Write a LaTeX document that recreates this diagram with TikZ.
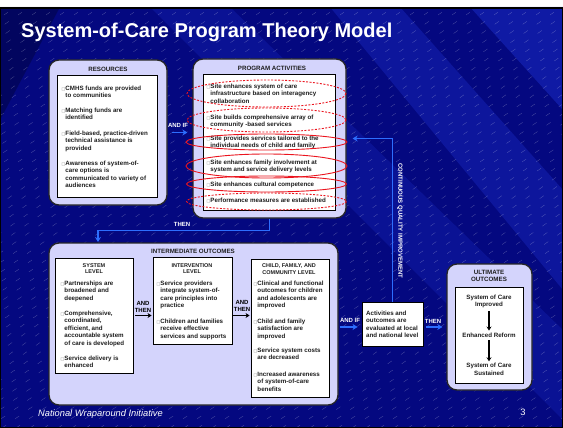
\documentclass[tikz,border=0pt]{standalone}
\usepackage{fontspec}
\setmainfont{Liberation Sans}
\newfontfamily\symfont{DejaVu Sans}
\usetikzlibrary{arrows.meta}
\definecolor{navy}{RGB}{4,8,128}
\definecolor{navylight}{RGB}{30,50,210}
\definecolor{lavender}{RGB}{212,212,252}
\definecolor{linkblue}{RGB}{45,110,255}
\definecolor{ringred}{RGB}{235,20,30}
\definecolor{itemgray}{RGB}{30,30,30}
\newcommand\bx{{\color{gray}\symfont\fontsize{4}{4}\selectfont □}}
\newcommand\ind{\phantom{\bx}}

\begin{document}
\begin{tikzpicture}[x=1pt,y=-1pt,
   font=\bfseries\fontsize{6.2}{7.5}\selectfont,
   outerbox/.style={draw=black!85, line width=1.3pt, fill=lavender, rounded corners=10pt, inner sep=0pt},
   innerbox/.style={draw=black, line width=0.9pt, fill=white, inner sep=0pt},
   item/.style={anchor=north west, align=left, inner sep=0pt, text=itemgray},
   head/.style={align=center, inner sep=0pt, text=itemgray},
   subhead/.style={head, font=\bfseries\fontsize{5.5}{6.8}\selectfont},
   lbl/.style={text=white, inner sep=0pt, font=\bfseries\fontsize{6}{7}\selectfont},
   andthen/.style={align=center, inner sep=0pt, font=\bfseries\fontsize{6}{7.6}\selectfont},
   bluearrow/.style={draw=linkblue, line width=1.6pt, -{Stealth[length=5pt,width=6pt]}},
   blueline/.style={draw=linkblue, line width=1.1pt},
   blkarrow/.style={draw=black, line width=1.3pt, -{Stealth[length=4pt,width=5pt]}},
   ring/.style={draw=ringred, line width=0.9pt},
   dashring/.style={ring, dash pattern=on 2pt off 1.5pt}]
   \useasboundingbox (0,0) rectangle (563,428);
   \fill[white] (0,0) rectangle (563,428);
   \fill[navy] (0,7) rectangle (563,428);
   \fill[navylight, opacity=.35] (330,7) -- (400,7) -- (563,190) -- (563,290) -- cycle;
   \fill[navylight, opacity=.45] (470,7) -- (563,7) -- (563,110) -- cycle;
   \fill[navylight, opacity=.25] (150,7) -- (230,7) -- (563,330) -- (563,420) -- cycle;
   \fill[black, opacity=.25] (0,7) -- (60,7) -- (0,120) -- cycle;
   \begin{scope}
      \clip (0,7) rectangle (563,428);
      \foreach \k in {-600,-586,...,570}
         \draw[white, opacity=.3, line width=.3pt, dash pattern=on 5pt off 11pt] (\k,428) -- ++(620,-434);
   \end{scope}
   \draw[black, line width=2pt] (0,8) rectangle (563,428);

   \node[anchor=base west, text=white, inner sep=0pt, font=\bfseries\fontsize{20}{24}\selectfont] (title) at (21,38) {System-of-Care Program Theory Model};

   % top row
   \node[outerbox, minimum width=118pt, minimum height=145pt] (res) at (108,132.5) {};
   \node[innerbox, minimum width=100pt, minimum height=122pt] (resin) at (107,136) {};
   \node[head] (reshead) at (108,69) {RESOURCES};
   \node[item] (r1) at (61.5,85.7) {\bx CMHS funds are provided\\\ind to communities};
   \node[item] (r2) at (61.5,107.7) {\bx Matching funds are\\\ind identified};
   \node[item] (r3) at (61.5,130.7) {\bx Field-based, practice-driven\\\ind technical assistance is\\\ind provided};
   \node[item] (r4) at (61.5,160.7) {\bx Awareness of system-of-\\\ind care options is\\\ind communicated to variety of\\\ind audiences};

   \node[outerbox, minimum width=153pt, minimum height=159pt] (act) at (269.5,138.5) {};
   \node[innerbox, minimum width=132pt, minimum height=136pt] (actin) at (269,142) {};
   \node[head] (acthead) at (272,68) {PROGRAM ACTIVITIES};
   \node[item] (a1) at (206.5,83.7) {\bx Site enhances system of care\\\ind infrastructure based on interagency\\\ind collaboration};
   \node[item] (a2) at (206.5,114.7) {\bx Site builds comprehensive array of\\\ind community -based services};
   \node[item] (a3) at (206.5,135.7) {\bx Site provides services tailored to the\\\ind individual needs of child and family};
   \node[item] (a4) at (206.5,159.7) {\bx Site enhances family involvement at\\\ind system and service delivery levels};
   \node[item] (a5) at (206.5,181.7) {\bx Site enhances cultural competence};
   \node[item] (a6) at (206.5,197.7) {\bx Performance measures are established};
   \draw[dashring] (266.5,93.5) ellipse [x radius=79.5, y radius=13.5];
   \draw[dashring] (266.5,120) ellipse [x radius=79.5, y radius=12];
   \draw[ring] (266.5,142) ellipse [x radius=80.5, y radius=8];
   \draw[ring] (266.5,166) ellipse [x radius=80.5, y radius=12];
   \draw[ring] (266.5,184) ellipse [x radius=80, y radius=8];
   \draw[dashring] (266.5,201.5) ellipse [x radius=80, y radius=8.5];

   % bottom row
   \node[outerbox, minimum width=289pt, minimum height=162pt] (inter) at (193.5,324) {};
   \node[head] (interhead) at (193,251) {INTERMEDIATE OUTCOMES};
   \node[innerbox, minimum width=78pt, minimum height=115pt] (sys) at (94,315.5) {};
   \node[subhead] (syshead) at (94,268.5) {SYSTEM\\LEVEL};
   \node[item] (s1) at (60.5,280.7) {\bx Partnerships are\\\ind broadened and\\\ind deepened};
   \node[item] (s2) at (60.5,310.7) {\bx Comprehensive,\\\ind coordinated,\\\ind efficient, and\\\ind accountable system\\\ind of care is developed};
   \node[item] (s3) at (60.5,355.7) {\bx Service delivery is\\\ind enhanced};

   \node[innerbox, minimum width=79pt, minimum height=87pt] (intv) at (192.5,300.5) {};
   \node[subhead] (intvhead) at (192,268.5) {INTERVENTION\\LEVEL};
   \node[item] (v1) at (156.5,280.7) {\bx Service providers\\\ind integrate system-of-\\\ind care principles into\\\ind practice};
   \node[item] (v2) at (156.5,318.7) {\bx Children and families\\\ind receive effective\\\ind services and supports};

   \node[innerbox, minimum width=78pt, minimum height=138pt] (cfc) at (290,328) {};
   \node[subhead] (cfchead) at (289,269) {CHILD, FAMILY, AND\\COMMUNITY LEVEL};
   \node[item] (c1) at (253.5,280.7) {\bx Clinical and functional\\\ind outcomes for children\\\ind and adolescents are\\\ind improved};
   \node[item] (c2) at (253.5,318.7) {\bx Child and family\\\ind satisfaction are\\\ind improved};
   \node[item] (c3) at (253.5,347.7) {\bx Service system costs\\\ind are decreased};
   \node[item] (c4) at (253.5,371.7) {\bx Increased awareness\\\ind of system-of-care\\\ind benefits};

   \node[innerbox, minimum width=61pt, minimum height=44pt] (eval) at (392.5,324) {};
   \node[item] (evaltext) at (366,310.7) {Activities and\\outcomes are\\evaluated at local\\and national level};

   \node[outerbox, minimum width=85pt, minimum height=126pt] (ult) at (489.5,327) {};
   \node[innerbox, minimum width=68pt, minimum height=96pt] (ultin) at (489,335) {};
   \node[head] (ulthead) at (489,276) {ULTIMATE\\OUTCOMES};
   \node[head] (u1) at (489,301.5) {System of Care\\Improved};
   \node[head] (u2) at (489,335) {Enhanced Reform};
   \node[head] (u3) at (489,369.5) {System of Care\\Sustained};

   % connectors
   \draw[bluearrow, shorten <=4pt, shorten >=5pt] (res.east) -- (res.east -| act.west);
   \node[lbl] (andif1) at (178,125) {AND IF};
   \draw[blueline, -{Stealth[length=5pt,width=6pt]}, shorten >=6pt] (eval.north) |- (act.east);
   \node[lbl, rotate=-90] (cqi) at (400,221) {CONTINUOUS QUALITY IMPROVEMENT};
   \coordinate (thenend) at (98,242);
   \draw[blueline, -{Stealth[length=5pt,width=6pt]}] (act.south) -- ++(0,12) -| (thenend);
   \node[lbl] (then1) at (182,224) {THEN};

   \draw[blkarrow, shorten <=2pt, shorten >=1pt] (sys.east) -- (sys.east -| intv.west);
   \node[andthen] (andthen1) at (143,307) {AND\\THEN};
   \draw[blkarrow, shorten <=1pt, shorten >=1pt] (intv.east |- sys.east) -- (cfc.west |- sys.east);
   \node[andthen] (andthen2) at (242,306) {AND\\THEN};

   \draw[bluearrow, shorten <=1pt, shorten >=4pt] ([yshift=-3pt]inter.east) -- ([yshift=-3pt]eval.west);
   \node[lbl] (andif2) at (350,320) {AND IF};
   \draw[bluearrow, shorten <=3pt, shorten >=4pt] ([yshift=-3pt]eval.east) -- ([yshift=-3pt]eval.east -| ult.west);
   \node[lbl] (then2) at (433,321) {THEN};

   \draw[blkarrow, shorten <=3pt, shorten >=2pt] (u1) -- (u2);
   \draw[blkarrow, shorten <=3pt, shorten >=2pt] (u2) -- (u3);

   \node[anchor=base west, text=white, inner sep=0pt, font=\itshape\mdseries\fontsize{9.3}{11}\selectfont] (footer) at (38,416) {National Wraparound Initiative};
   \node[text=white, inner sep=0pt, font=\mdseries\fontsize{9.3}{11}\selectfont] (pagenum) at (523,412) {3};
\end{tikzpicture}
\end{document}
